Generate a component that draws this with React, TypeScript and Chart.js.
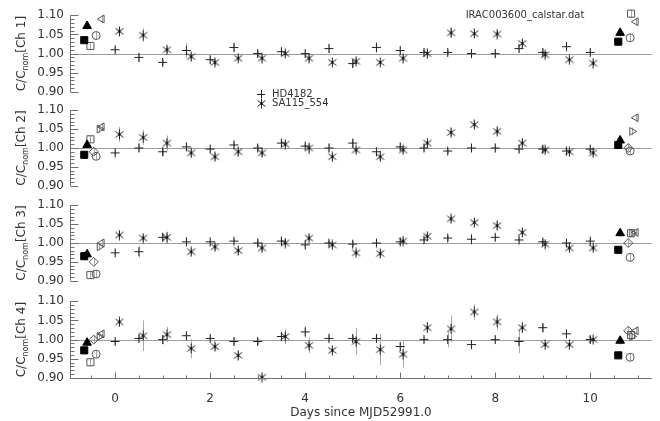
import React, { useEffect, useRef } from "react";
import { Chart, registerables } from "chart.js";
Chart.register(...registerables);

const FONT = '"DejaVu Sans", "Liberation Sans", sans-serif';
const TEXT = "#333333";
const AXIS = "#707070";
const ERR = "#a8a8a8";
const REF = "#9c9c9c";

const X_MIN = -0.95;
const X_MAX = 11.3;
const X_TICKS = [0, 2, 4, 6, 8, 10];
const Y_TICKS = [0.9, 0.95, 1.0, 1.05, 1.1];
const CHANNELS = ["Ch 1", "Ch 2", "Ch 3", "Ch 4"];
const PANEL_TOPS = [14, 109, 204, 300];
const PANEL_H = 78;

const TITLE = "IRAC003600_calstar.dat";
const X_TITLE = "Days since MJD52991.0";
const LEGEND_LABELS = ["HD4182", "SA115_554"];

// observation days
const hdDays = [0, 0.5, 1, 1.5, 2, 2.5, 3, 3.5, 4, 4.5, 5, 5.5, 6, 6.5, 7, 7.5, 8, 8.5, 9, 9.5, 10];
const saDays = [0.09, 0.59, 1.09, 1.6, 2.1, 2.59, 3.09, 3.58, 4.08, 4.57, 5.07, 5.58, 6.06, 6.57, 7.07, 7.56, 8.04, 8.57, 9.05, 9.56, 10.06];

// HD4182
const hdCh1 = [1.01, 0.99, 0.977, 1.008, 0.984, 1.016, 1.0, 1.005, 1.0, 1.013, 0.974, 1.016, 1.008, 1.003, 1.003, 1.0, 1.0, 1.013, 1.003, 1.018, 1.003];
const hdCh2 = [0.987, 1.0, 0.99, 1.003, 0.997, 1.008, 1.0, 1.013, 1.005, 1.0, 1.013, 0.99, 1.003, 1.0, 0.992, 1.0, 1.0, 0.997, 0.997, 0.992, 0.997];
const hdCh3 = [0.974, 0.977, 1.015, 1.003, 1.003, 1.005, 1.0, 1.005, 0.995, 1.0, 0.997, 1.0, 1.003, 1.008, 1.013, 1.01, 1.015, 1.008, 1.003, 1.0, 1.005];
const hdCh4 = [0.995, 1.003, 1.0, 1.01, 1.003, 0.995, 0.995, 1.008, 1.02, 1.003, 1.003, 1.003, 0.982, 1.0, 1.0, 0.987, 1.0, 0.995, 1.031, 1.015, 1.0];
const hdErrCh1 = [0.008, 0.012, 0.008, 0.02, 0.01, 0.012, 0.008, 0.01, 0.008, 0.012, 0.01, 0.014, 0.01, 0.01, 0.008, 0.008, 0.012, 0.01, 0.01, 0.012, 0.01];
const hdErrCh2 = [0.008, 0.01, 0.012, 0.01, 0.01, 0.01, 0.008, 0.01, 0.008, 0.012, 0.01, 0.01, 0.01, 0.01, 0.008, 0.01, 0.012, 0.01, 0.01, 0.01, 0.01];
const hdErrCh3 = [0.01, 0.015, 0.01, 0.012, 0.008, 0.008, 0.01, 0.012, 0.012, 0.008, 0.008, 0.008, 0.01, 0.008, 0.008, 0.015, 0.01, 0.008, 0.008, 0.01, 0.01];
const hdErrCh4 = [0.008, 0.01, 0.012, 0.008, 0.008, 0.01, 0.008, 0.012, 0.015, 0.01, 0.008, 0.01, 0.012, 0.008, 0.02, 0.01, 0.01, 0.03, 0.012, 0.008, 0.01];

// SA115_554
const saCh1 = [1.058, 1.048, 1.01, 0.992, 0.977, 0.988, 0.988, 1.0, 0.988, 0.977, 0.98, 0.977, 0.988, 1.0, 1.054, 1.052, 1.051, 1.026, 0.997, 0.984, 0.975];
const saCh2 = [1.036, 1.028, 1.013, 0.987, 0.977, 0.99, 0.987, 1.01, 1.0, 0.977, 0.995, 0.977, 0.995, 1.013, 1.041, 1.062, 1.044, 1.013, 0.995, 0.99, 0.987];
const saCh3 = [1.021, 1.013, 1.015, 0.977, 0.99, 0.98, 0.987, 1.0, 1.013, 0.995, 0.974, 0.972, 1.005, 1.018, 1.064, 1.054, 1.046, 1.028, 0.997, 0.987, 0.987];
const saCh4 = [1.046, 1.01, 1.013, 0.977, 0.982, 0.959, 0.902, 1.008, 0.985, 0.972, 0.995, 0.974, 0.962, 1.031, 1.028, 1.072, 1.046, 1.031, 0.987, 0.987, 1.0];
const saErrCh1 = [0.01, 0.018, 0.01, 0.01, 0.008, 0.01, 0.01, 0.008, 0.01, 0.008, 0.008, 0.008, 0.01, 0.01, 0.012, 0.01, 0.012, 0.01, 0.01, 0.01, 0.008];
const saErrCh2 = [0.02, 0.02, 0.02, 0.012, 0.01, 0.012, 0.01, 0.01, 0.015, 0.01, 0.01, 0.01, 0.008, 0.01, 0.01, 0.008, 0.01, 0.01, 0.008, 0.008, 0.008];
const saErrCh3 = [0.012, 0.01, 0.015, 0.01, 0.01, 0.012, 0.01, 0.012, 0.008, 0.01, 0.008, 0.01, 0.01, 0.01, 0.008, 0.01, 0.012, 0.01, 0.01, 0.01, 0.008];
const saErrCh4 = [0.008, 0.04, 0.02, 0.025, 0.01, 0.012, 0.005, 0.02, 0.02, 0.008, 0.035, 0.04, 0.035, 0.015, 0.035, 0.02, 0.02, 0.015, 0.008, 0.008, 0.008];

// other calibrators (start / end of campaign)
const sqFilledDays = [-0.65, 10.59];
const sqFilledVals = [[1.035, 1.031], [0.982, 1.008], [0.965, 0.982], [0.972, 0.959]];
const triFilledDays = [-0.59, 10.63];
const triFilledVals = [[1.072, 1.054], [1.008, 1.02], [0.97, 1.026], [0.992, 0.997]];
const sqOpenDays = [-0.52, 10.86];
const sqOpenVals = [[1.02, 1.104], [1.023, null], [0.915, 1.026], [0.941, 1.012]];
const diaOpenDays = [-0.45, 10.8];
const diaOpenVals = [[null, null], [0.99, 1.0], [0.95, 1.0], [1.0, 1.023]];
const cirOpenDays = [-0.4, 10.84];
const cirOpenVals = [[1.047, 1.041], [0.978, 0.992], [0.918, 0.962], [0.962, 0.954]];
const triRightDays = [-0.33, 10.88];
const triRightVals = [[null, null], [1.05, 1.044], [0.99, 1.026], [1.008, 1.008]];
const triLeftDays = [-0.28, 10.96];
const triLeftVals = [[1.09, 1.083], [1.056, 1.08], [1.0, 1.028], [1.015, 1.023]];
const specialErr = [0.01, 0.01];

const HD_VALUES = [hdCh1, hdCh2, hdCh3, hdCh4];
const HD_ERRORS = [hdErrCh1, hdErrCh2, hdErrCh3, hdErrCh4];
const SA_VALUES = [saCh1, saCh2, saCh3, saCh4];
const SA_ERRORS = [saErrCh1, saErrCh2, saErrCh3, saErrCh4];

function makeAsterisk(): HTMLCanvasElement {
  const c = document.createElement("canvas");
  c.width = 11;
  c.height = 11;
  const g = c.getContext("2d")!;
  g.strokeStyle = "#222";
  g.lineWidth = 1;
  g.beginPath();
  g.moveTo(5.5, 0.5);
  g.lineTo(5.5, 10.5);
  g.moveTo(1.5, 2.5);
  g.lineTo(9.5, 8.5);
  g.moveTo(9.5, 2.5);
  g.lineTo(1.5, 8.5);
  g.stroke();
  g.fillStyle = "#000";
  g.fillRect(4.5, 4.5, 2, 2);
  return c;
}

function pts(days: number[], vals: (number | null)[]) {
  const out: { x: number; y: number }[] = [];
  days.forEach((d, i) => {
    const v = vals[i];
    if (v !== null && v !== undefined) out.push({ x: d, y: v });
  });
  return out;
}
function errsFor(vals: (number | null)[], errs: number[]) {
  const out: number[] = [];
  vals.forEach((v, i) => {
    if (v !== null && v !== undefined) out.push(errs[i]);
  });
  return out;
}

const decorPlugin = {
  id: "decor",
  beforeDatasetsDraw(chart: any) {
    const { ctx, chartArea: a, scales } = chart;
    const x = scales.x;
    const y = scales.y;
    ctx.save();
    ctx.lineWidth = 1;
    ctx.strokeStyle = REF;
    const y1 = Math.round(y.getPixelForValue(1)) + 0.5;
    ctx.beginPath();
    ctx.moveTo(a.left, y1);
    ctx.lineTo(a.right, y1);
    ctx.stroke();
    ctx.strokeStyle = ERR;
    chart.data.datasets.forEach((ds: any) => {
      if (!ds.errors) return;
      ds.data.forEach((p: any, i: number) => {
        const e = ds.errors[i];
        if (!e) return;
        const px = Math.round(x.getPixelForValue(p.x)) + 0.5;
        ctx.beginPath();
        ctx.moveTo(px, y.getPixelForValue(p.y - e));
        ctx.lineTo(px, y.getPixelForValue(p.y + e));
        ctx.stroke();
      });
    });
    ctx.restore();
  },
  afterDraw(chart: any, _args: any, opts: any) {
    const { ctx, chartArea: a, scales } = chart;
    const x = scales.x;
    const y = scales.y;
    ctx.save();
    ctx.lineWidth = 1;
    ctx.strokeStyle = AXIS;
    const ax = Math.round(a.left) + 0.5;
    ctx.beginPath();
    ctx.moveTo(ax, y.getPixelForValue(0.9));
    ctx.lineTo(ax, y.getPixelForValue(1.1));
    for (let k = 0; k <= 20; k++) {
      const v = 0.9 + k * 0.01;
      const py = Math.round(y.getPixelForValue(v)) + 0.5;
      const len = k % 5 === 0 ? 8 : 4;
      ctx.moveTo(ax, py);
      ctx.lineTo(ax + len, py);
    }
    ctx.stroke();
    if (opts.bottom) {
      const by = Math.round(a.bottom) + 0.5;
      ctx.beginPath();
      ctx.moveTo(a.left, by);
      ctx.lineTo(a.right, by);
      for (let k = -1; k <= 22; k++) {
        const v = k * 0.5;
        if (v < X_MIN || v > X_MAX) continue;
        const px = Math.round(x.getPixelForValue(v)) + 0.5;
        const len = k % 4 === 0 ? 6 : 3;
        ctx.moveTo(px, by);
        ctx.lineTo(px, by - len);
      }
      ctx.stroke();
    }
    // y title with subscript
    const big = `12px ${FONT}`;
    const small = `8px ${FONT}`;
    const p1 = "C/C";
    const p2 = "nom";
    const p3 = `[${opts.ch}]`;
    ctx.font = big;
    const w1 = ctx.measureText(p1).width;
    const w3 = ctx.measureText(p3).width;
    ctx.font = small;
    const w2 = ctx.measureText(p2).width;
    const total = w1 + w2 + w3;
    ctx.translate(21, (a.top + a.bottom) / 2);
    ctx.rotate(-Math.PI / 2);
    ctx.fillStyle = TEXT;
    ctx.textBaseline = "alphabetic";
    ctx.textAlign = "left";
    let sx = -total / 2;
    ctx.font = big;
    ctx.fillText(p1, sx, 4);
    sx += w1;
    ctx.font = small;
    ctx.fillText(p2, sx, 7);
    sx += w2;
    ctx.font = big;
    ctx.fillText(p3, sx, 4);
    ctx.restore();

    if (opts.top) {
      ctx.save();
      ctx.fillStyle = TEXT;
      ctx.font = `10px ${FONT}`;
      ctx.textAlign = "center";
      ctx.textBaseline = "middle";
      ctx.fillText(TITLE, 525, 13);
      // legend
      ctx.textAlign = "left";
      const lx = 261;
      const ly1 = a.bottom + 2;
      const ly2 = a.bottom + 11;
      ctx.strokeStyle = "#222";
      ctx.lineWidth = 1;
      ctx.beginPath();
      ctx.moveTo(lx - 4, Math.round(ly1) + 0.5);
      ctx.lineTo(lx + 4, Math.round(ly1) + 0.5);
      ctx.moveTo(lx + 0.5, ly1 - 4);
      ctx.lineTo(lx + 0.5, ly1 + 4);
      ctx.stroke();
      ctx.drawImage(opts.star, lx - 5, Math.round(ly2) - 5);
      ctx.fillText(LEGEND_LABELS[0], lx + 11, ly1);
      ctx.fillText(LEGEND_LABELS[1], lx + 11, ly2);
      ctx.restore();
    }
  },
};

function Panel({ index }: { index: number }) {
  const ref = useRef<HTMLCanvasElement>(null);
  const isTop = index === 0;
  const isBottom = index === 3;
  const top = PANEL_TOPS[index];
  const canvasTop = top - 12;
  const height = isBottom ? 421 - canvasTop : isTop ? 110 : 102;
  const below = height - 12 - PANEL_H;

  useEffect(() => {
    const star = makeAsterisk();
    const open = "#555";
    const special = (days: number[], vals: (number | null)[][], style: any, filled: boolean, radius: number, rotation = 0) => ({
      data: pts(days, vals[index]),
      errors: errsFor(vals[index], specialErr),
      pointStyle: style,
      pointRadius: radius,
      pointRotation: rotation,
      pointBackgroundColor: filled ? "#000" : "rgba(0,0,0,0)",
      pointBorderColor: filled ? "#000" : open,
      pointBorderWidth: 1,
      showLine: false,
      clip: false,
    });
    const datasets: any[] = [
      {
        data: hdDays.map((d, k) => ({ x: d, y: HD_VALUES[index][k] })),
        errors: HD_ERRORS[index],
        pointStyle: "cross",
        pointRadius: 4.5,
        pointBorderColor: "#222",
        pointBorderWidth: 1,
        showLine: false,
        clip: false,
      },
      {
        data: saDays.map((d, k) => ({ x: d, y: SA_VALUES[index][k] })),
        errors: SA_ERRORS[index],
        pointStyle: star,
        pointRadius: 5,
        showLine: false,
        clip: false,
      },
      special(sqFilledDays, sqFilledVals, "rect", true, 5),
      special(triFilledDays, triFilledVals, "triangle", true, 5),
      special(sqOpenDays, sqOpenVals, "rect", false, 5),
      special(diaOpenDays, diaOpenVals, "rectRot", false, 4.5),
      special(cirOpenDays, cirOpenVals, "circle", false, 4),
      special(triRightDays, triRightVals, "triangle", false, 4.5, 90),
      special(triLeftDays, triLeftVals, "triangle", false, 4.5, -90),
    ];
    const xScale: any = {
      type: "linear",
      min: X_MIN,
      max: X_MAX,
      display: isBottom,
      grid: { display: false, drawTicks: false },
      border: { display: false },
      afterBuildTicks: (s: any) => {
        s.ticks = X_TICKS.map((v) => ({ value: v }));
      },
      ticks: {
        font: { family: FONT, size: 12 },
        color: TEXT,
        padding: 14,
        maxRotation: 0,
        autoSkip: false,
        callback: (v: any) => String(v),
      },
      title: {
        display: true,
        text: X_TITLE,
        font: { family: FONT, size: 12 },
        color: TEXT,
        padding: { top: 0, bottom: 1 },
      },
    };
    if (isBottom) {
      xScale.afterFit = (s: any) => {
        s.height = below;
      };
    }
    const chart = new Chart(ref.current!, {
      type: "scatter",
      data: { datasets },
      plugins: [decorPlugin as any],
      options: {
        animation: false,
        responsive: false,
        events: [],
        layout: { padding: { top: 12, bottom: isBottom ? 0 : below, left: 0, right: 8 } },
        plugins: {
          legend: { display: false },
          tooltip: { enabled: false },
          title: { display: false },
          decor: { ch: CHANNELS[index], top: isTop, bottom: isBottom, star },
        } as any,
        scales: {
          x: xScale,
          y: {
            type: "linear",
            min: 0.9,
            max: 1.1,
            grid: { display: false, drawTicks: false },
            border: { display: false },
            afterBuildTicks: (s: any) => {
              s.ticks = Y_TICKS.map((v) => ({ value: v }));
            },
            afterFit: (s: any) => {
              s.width = 70;
            },
            ticks: {
              font: { family: FONT, size: 12 },
              color: TEXT,
              padding: 6,
              callback: (v: any) => Number(v).toFixed(2),
            },
          },
        },
      } as any,
    });
    return () => chart.destroy();
  }, []);

  return (
    <canvas
      ref={ref}
      width={660}
      height={height}
      style={{ position: "absolute", left: 0, top: canvasTop, width: 660, height }}
    />
  );
}

export default function App() {
  return (
    <div style={{ position: "fixed", left: 0, top: 0, width: 660, height: 421, background: "#fff", overflow: "hidden" }}>
      {[0, 1, 2, 3].map((i) => (
        <Panel key={i} index={i} />
      ))}
    </div>
  );
}
